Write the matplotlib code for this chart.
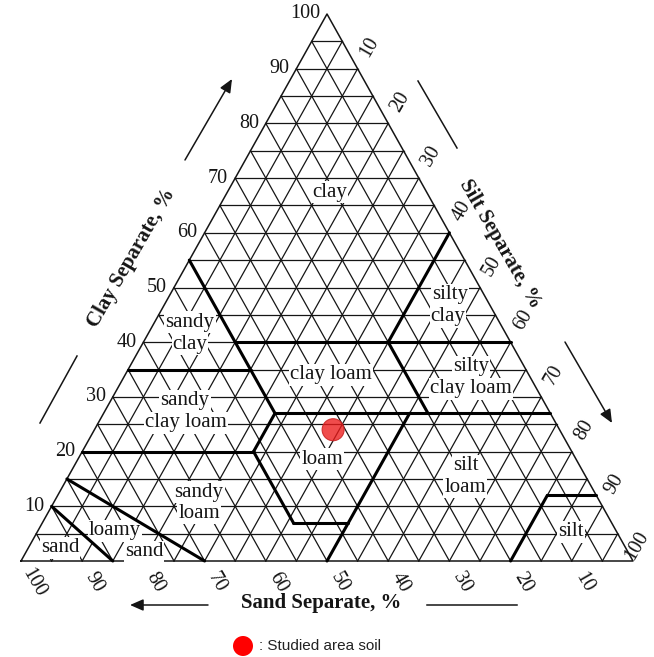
import numpy as np
import matplotlib
matplotlib.use("Agg")
import matplotlib.pyplot as plt
from matplotlib.patches import Circle

# ---- data -------------------------------------------------------------
tick_values = [10, 20, 30, 40, 50, 60, 70, 80, 90, 100]
grid_steps = list(range(5, 100, 5))

# USDA texture class boundaries as (sand, silt, clay) segment end points
boundary_start = [
    (45, 0, 55), (45, 15, 40), (0, 40, 60), (65, 0, 35), (20, 40, 40),
    (45, 28, 27), (80, 0, 20), (45, 28, 27), (52, 28, 20), (52, 41, 7),
    (23, 50, 27), (20, 80, 0), (8, 80, 12), (85, 0, 15), (90, 0, 10),
]
boundary_end = [
    (45, 28, 27), (0, 60, 40), (20, 40, 40), (45, 20, 35), (20, 53, 27),
    (0, 73, 27), (52, 28, 20), (52, 28, 20), (52, 41, 7), (43, 50, 7),
    (50, 50, 0), (8, 80, 12), (0, 88, 12), (70, 30, 0), (85, 15, 0),
]

# texture class names (one entry per printed line)
class_lines = ["clay", "silty", "clay", "sandy", "clay", "clay loam",
               "silty", "clay loam", "sandy", "clay loam", "loam",
               "silt", "loam", "sandy", "loam", "loamy", "sand",
               "sand", "silt"]

# studied soil sample (sand, silt, clay), %
sample_sand = [37]
sample_silt = [39]
sample_clay = [24]

# ---- geometry ---------------------------------------------------------
W, H = 654, 657
LEFT = np.array([21.0, 561.0])    # 100 % sand
RIGHT = np.array([633.0, 561.0])  # 100 % silt
TOP = np.array([327.0, 14.0])     # 100 % clay


def tern(sand, silt, clay):
    return (sand * LEFT + silt * RIGHT + clay * TOP) / 100.0


up_dir = (TOP - LEFT) / np.linalg.norm(TOP - LEFT)      # along silt lines
down_dir = (RIGHT - TOP) / np.linalg.norm(RIGHT - TOP)  # along sand lines

fig = plt.figure(figsize=(W / 100, H / 100), dpi=100)
ax = fig.add_axes([0, 0, 1, 1])
ax.set_xlim(0, W)
ax.set_ylim(H, 0)
ax.axis("off")

serif = "Liberation Serif"
ink = "#151515"

# ---- grid -------------------------------------------------------------
for k in grid_steps:
    segs = [
        (tern(100 - k, 0, k), tern(0, 100 - k, k)),   # constant clay
        (tern(k, 0, 100 - k), tern(k, 100 - k, 0)),   # constant sand
        (tern(0, k, 100 - k), tern(100 - k, k, 0)),   # constant silt
    ]
    for a, b in segs:
        ax.plot([a[0], b[0]], [a[1], b[1]], color=ink, lw=0.9, zorder=1)

outline = np.array([LEFT, RIGHT, TOP, LEFT])
ax.plot(outline[:, 0], outline[:, 1], color=ink, lw=1.1, zorder=2)

# ---- class labels -----------------------------------------------------
label_pos = [(330, 192), (450, 295), (448, 317), (190, 322), (190, 344),
             (331, 375), (471, 367), (471, 389), (185, 401), (186, 423),
             (322, 459), (466, 466), (465, 487), (199, 492), (199, 513),
             (115, 531), (144, 552), (60, 548), (571, 532)]
for txt, (x, y) in zip(class_lines, label_pos):
    ax.text(x, y, txt, ha="center", va="center", fontsize=15,
            family=serif, color=ink, zorder=3,
            bbox=dict(boxstyle="square,pad=0.05", fc="white", ec="none"))

# ---- class boundaries -------------------------------------------------
for s, e in zip(boundary_start, boundary_end):
    a, b = tern(*s), tern(*e)
    ax.plot([a[0], b[0]], [a[1], b[1]], color="black", lw=2.2,
            solid_capstyle="round", zorder=4)

# ---- tick labels ------------------------------------------------------
for v in tick_values:
    p = tern(100 - v, 0, v)
    ax.text(p[0] - 7, p[1], str(v), ha="right", va="center",
            fontsize=14.5, family=serif, color=ink)
    # the last silt label sits in the corner, pull it in a little
    off = 25 if v < 100 else 17
    p = tern(0, v, 100 - v) + off * up_dir
    if v == 100:
        p = p + np.array([-4.0, 0.0])
    ax.text(p[0], p[1], str(v), ha="center", va="center", rotation=60,
            rotation_mode="anchor", fontsize=14.5, family=serif, color=ink)
    p = tern(v, 100 - v, 0) + 25 * down_dir
    ax.text(p[0], p[1], str(v), ha="center", va="center", rotation=-60,
            rotation_mode="anchor", fontsize=14.5, family=serif, color=ink)

# ---- axis titles and direction arrows ---------------------------------
ax.text(132, 258, "Clay Separate, %", rotation=60, ha="center", va="center",
        rotation_mode="anchor", fontsize=15, fontweight="bold", family=serif,
        color=ink)
ax.text(500, 244, "Silt Separate, %", rotation=-60, ha="center", va="center",
        rotation_mode="anchor", fontsize=15, fontweight="bold", family=serif,
        color=ink)
ax.text(321, 603, "Sand Separate, %", ha="center", va="center",
        fontsize=15, fontweight="bold", family=serif, color=ink)

arrow = dict(arrowstyle="-|>,head_length=0.8,head_width=0.35", color=ink,
             lw=1.1, shrinkA=0, shrinkB=0)
ax.annotate("", xy=(232, 79), xytext=(185, 160), arrowprops=arrow)
ax.annotate("", xy=(612, 423), xytext=(565, 342), arrowprops=arrow)
ax.annotate("", xy=(130, 605), xytext=(208, 605), arrowprops=arrow)
ax.plot([40, 77], [423, 356], color=ink, lw=1.1)
ax.plot([418, 457], [81, 148], color=ink, lw=1.1)
ax.plot([427, 517], [605, 605], color=ink, lw=1.1)

# ---- studied sample ---------------------------------------------------
for s, si, c in zip(sample_sand, sample_silt, sample_clay):
    x, y = tern(s, si, c)
    ax.add_patch(Circle((x, y), 11, fc=(0.93, 0.1, 0.1, 0.78),
                        ec=(0.8, 0.15, 0.15, 0.9), lw=0.8, zorder=6))

# ---- legend -----------------------------------------------------------
ax.add_patch(Circle((243, 646), 10, fc="#ff0000", ec="none", zorder=6))
ax.text(259, 646, ": Studied area soil", ha="left", va="center",
        fontsize=11, family="Liberation Sans", color="#222222")

fig.savefig("out.png", dpi=100)
